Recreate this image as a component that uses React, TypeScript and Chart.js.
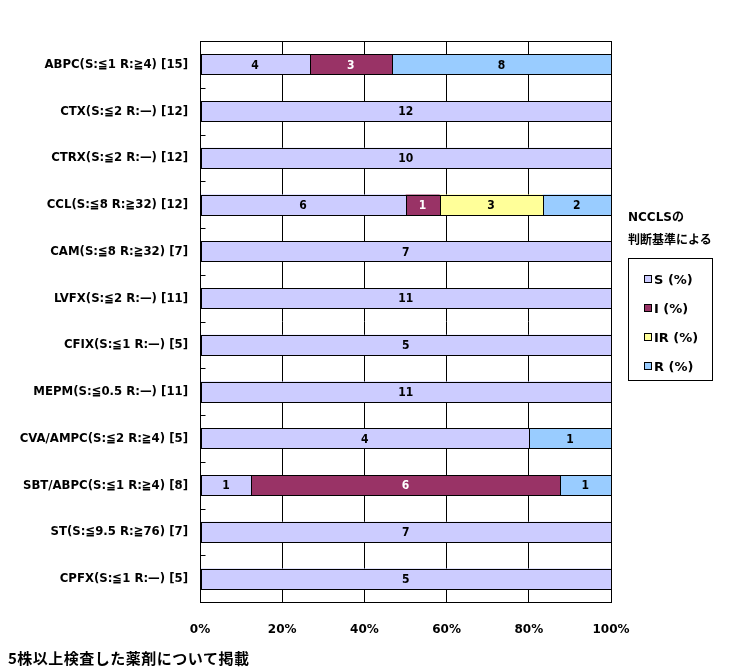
import React, { useEffect, useRef } from 'react';
import { Chart, registerables } from 'chart.js';

Chart.register(...registerables);

// drug name, breakpoints and number of strains
const drugs = [
  'ABPC(S:≦1 R:≧4) [15]',
  'CTX(S:≦2 R:—) [12]',
  'CTRX(S:≦2 R:—) [12]',
  'CCL(S:≦8 R:≧32) [12]',
  'CAM(S:≦8 R:≧32) [7]',
  'LVFX(S:≦2 R:—) [11]',
  'CFIX(S:≦1 R:—) [5]',
  'MEPM(S:≦0.5 R:—) [11]',
  'CVA/AMPC(S:≦2 R:≧4) [5]',
  'SBT/ABPC(S:≦1 R:≧4) [8]',
  'ST(S:≦9.5 R:≧76) [7]',
  'CPFX(S:≦1 R:—) [5]',
];

// strain counts per category
const sCounts = [4, 12, 10, 6, 7, 11, 5, 11, 4, 1, 7, 5];
const iCounts = [3, 0, 0, 1, 0, 0, 0, 0, 0, 6, 0, 0];
const irCounts = [0, 0, 0, 3, 0, 0, 0, 0, 0, 0, 0, 0];
const rCounts = [8, 0, 0, 2, 0, 0, 0, 0, 1, 1, 0, 0];

const seriesNames = ['S (%)', 'I (%)', 'IR (%)', 'R (%)'];
const seriesColors = ['#ccccff', '#993366', '#ffff99', '#99ccff'];
const seriesCounts = [sCounts, iCounts, irCounts, rCounts];
const labelColors = ['#000000', '#ffffff', '#000000', '#000000'];

const xTicks = [0, 20, 40, 60, 80, 100];

const condensed = '"DejaVu Sans Condensed", "Liberation Sans Narrow", "Noto Sans CJK JP", sans-serif';
const wide = '"DejaVu Sans", "Noto Sans CJK JP", sans-serif';

const totals = drugs.map((_, i) => seriesCounts.reduce((a, s) => a + s[i], 0));

// crisp bar outlines, black frame round the plot, short inner ticks
const framePlugin = {
  id: 'frame',
  afterDatasetsDraw(chart: any) {
    const { ctx, chartArea } = chart;
    const y = chart.scales.y;
    ctx.save();
    ctx.strokeStyle = '#000';
    ctx.lineWidth = 1;
    chart.data.datasets.forEach((_: any, di: number) => {
      chart.getDatasetMeta(di).data.forEach((el: any) => {
        if (el.skip || el.x == null || isNaN(el.x)) return;
        const x1 = Math.round(Math.min(el.x, el.base));
        const x2 = Math.round(Math.max(el.x, el.base));
        if (x2 - x1 < 1) return;
        const y1 = Math.round(el.y - el.height / 2);
        const y2 = Math.round(el.y + el.height / 2);
        ctx.fillStyle = seriesColors[di];
        ctx.fillRect(x1, y1, x2 - x1, y2 - y1);
        ctx.strokeRect(x1 + 0.5, y1 + 0.5, x2 - x1, y2 - y1);
      });
    });
    const l = Math.round(chartArea.left) + 0.5;
    const t = Math.round(chartArea.top) + 0.5;
    const r = Math.round(chartArea.right) + 0.5;
    const b = Math.round(chartArea.bottom) + 0.5;
    ctx.strokeRect(l, t, r - l, b - t);
    ctx.beginPath();
    for (let i = 1; i < drugs.length; i++) {
      const yy = Math.round((y.getPixelForTick(i - 1) + y.getPixelForTick(i)) / 2) + 0.5;
      ctx.moveTo(l, yy);
      ctx.lineTo(l + 5, yy);
    }
    ctx.stroke();
    ctx.restore();
  },
};

// count labels in the middle of each segment
const countLabels = {
  id: 'countLabels',
  afterDatasetsDraw(chart: any) {
    const { ctx } = chart;
    ctx.save();
    ctx.font = `bold 12px ${condensed}`;
    ctx.textAlign = 'center';
    ctx.textBaseline = 'middle';
    chart.data.datasets.forEach((ds: any, di: number) => {
      const meta = chart.getDatasetMeta(di);
      meta.data.forEach((el: any, i: number) => {
        const c = ds.counts[i];
        if (!c) return;
        ctx.fillStyle = labelColors[di];
        ctx.fillText(String(c), (el.x + el.base) / 2, el.y + 1);
      });
    });
    ctx.restore();
  },
};

const App: React.FC = () => {
  const chartRef = useRef<HTMLCanvasElement>(null);

  useEffect(() => {
    if (!chartRef.current) return;
    const ctx = chartRef.current.getContext('2d');
    if (!ctx) return;
    const chart = new Chart(ctx, {
      type: 'bar',
      data: {
        labels: drugs,
        datasets: seriesNames.map((name, k) => ({
          label: name,
          counts: seriesCounts[k],
          data: seriesCounts[k].map((c, i) => (c ? (c / totals[i]) * 100 : null)),
          backgroundColor: seriesColors[k],
          borderWidth: 0,
          barPercentage: 0.43,
          categoryPercentage: 1,
        })) as any,
      },
      options: {
        indexAxis: 'y',
        animation: false,
        responsive: true,
        maintainAspectRatio: false,
        layout: { padding: { left: 0, right: 127, top: 41, bottom: 0 } },
        plugins: {
          legend: { display: false },
          tooltip: { enabled: false },
        },
        scales: {
          x: {
            stacked: true,
            min: 0,
            max: 100,
            afterBuildTicks: (s: any) => {
              s.ticks = xTicks.map((v) => ({ value: v }));
            },
            afterFit: (s: any) => {
              s.height = 70;
            },
            grid: { color: '#000000', lineWidth: 1, drawTicks: false },
            border: { display: false },
            ticks: {
              padding: 21,
              color: '#000000',
              font: { family: wide, size: 12, weight: 'bold' },
              callback: (v: any) => `${v}%`,
            },
          },
          y: {
            stacked: true,
            afterFit: (s: any) => {
              s.width = 200;
            },
            grid: { display: false, drawTicks: false },
            border: { display: false },
            ticks: {
              padding: 12,
              color: '#000000',
              autoSkip: false,
              font: { family: condensed, size: 13, weight: 'bold' },
            },
          },
        },
      },
      plugins: [framePlugin, countLabels],
    });
    return () => {
      chart.destroy();
    };
  }, []);

  return (
    <div style={{ position: 'absolute', left: 0, top: 0, width: 738, height: 672, background: '#fff' }}>
      <canvas ref={chartRef} />
      <div
        style={{
          position: 'absolute',
          left: 628,
          top: 206,
          font: `bold 12px ${wide}`,
          lineHeight: '23px',
          color: '#000',
          whiteSpace: 'nowrap',
        }}
      >
        <div>NCCLSの</div>
        <div>判断基準による</div>
      </div>
      <div
        style={{
          position: 'absolute',
          left: 628,
          top: 258,
          width: 85,
          height: 123,
          border: '1px solid #000',
          boxSizing: 'border-box',
        }}
      >
        {seriesNames.map((name, k) => (
          <div
            key={name}
            style={{
              position: 'absolute',
              left: 15,
              top: 12 + k * 29,
              display: 'flex',
              alignItems: 'center',
              font: `bold 13px ${wide}`,
              color: '#000',
              whiteSpace: 'nowrap',
              height: 16,
            }}
          >
            <span
              style={{
                display: 'inline-block',
                width: 6,
                height: 6,
                border: '1px solid #000',
                background: seriesColors[k],
                marginRight: 2,
              }}
            />
            {name}
          </div>
        ))}
      </div>
      <div
        style={{
          position: 'absolute',
          left: 8,
          top: 647,
          font: `bold 15px "Noto Sans CJK JP", sans-serif`,
          letterSpacing: '0.5px',
          color: '#000',
          whiteSpace: 'nowrap',
        }}
      >
        5株以上検査した薬剤について掲載
      </div>
    </div>
  );
};

export default App;
